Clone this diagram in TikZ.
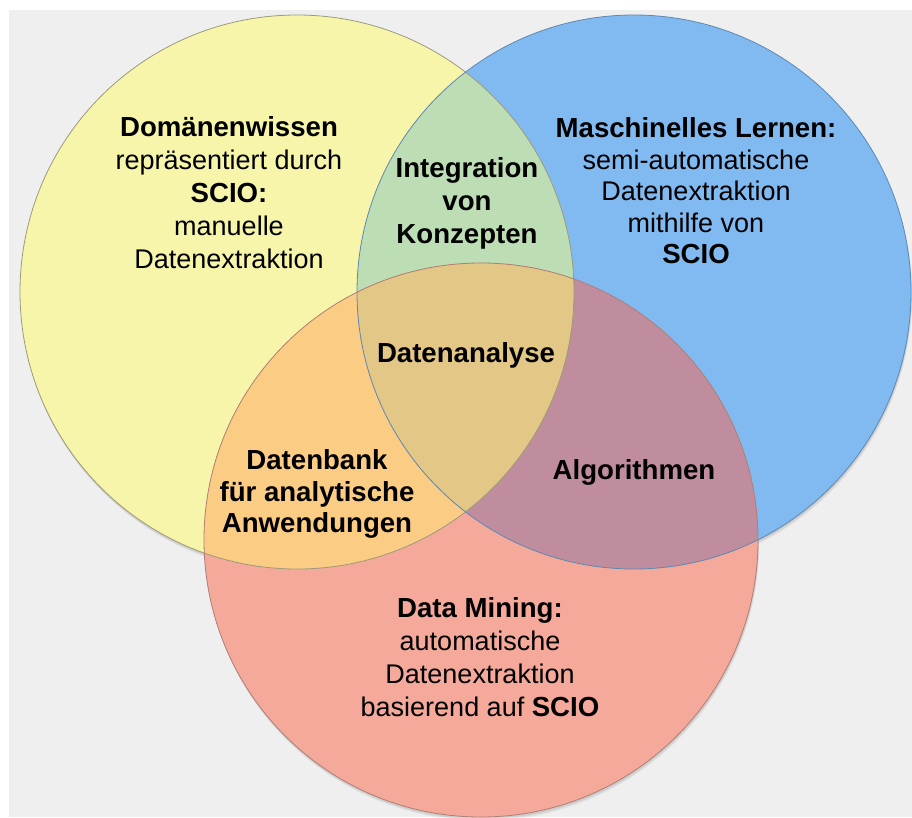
\documentclass[tikz,border=0pt]{standalone}
\usepackage{fontspec}
\setmainfont{Liberation Sans}
\definecolor{bggray}{HTML}{EFEFEF}
\definecolor{cyel}{HTML}{F6F5AA}
\definecolor{cblue}{HTML}{80BAF0}
\definecolor{cred}{HTML}{F5A99B}
\definecolor{cgreen}{HTML}{BDDDB4}
\definecolor{corange}{HTML}{FBCC84}
\definecolor{cpurple}{HTML}{C08D9F}
\definecolor{ccenter}{HTML}{E2C787}
\definecolor{eyel}{HTML}{9C9A78}
\definecolor{eblue}{HTML}{5E88B2}
\definecolor{ered}{HTML}{B07E74}
\newcommand{\bigb}[1]{{\fontsize{27.6}{33}\selectfont\bfseries #1}}
\tikzset{
  txt/.style={align=center, text=black, inner sep=0pt, font=\fontsize{27}{33}\selectfont},
  txtb/.style={txt, font=\fontsize{27.6}{33}\selectfont\bfseries},
  edge/.style={line width=0.8pt}
}
\begin{document}
\begin{tikzpicture}[x=1pt,y=-1pt]
\useasboundingbox (0,0) rectangle (912,817);
\fill[white] (0,0) rectangle (912,817);
\fill[bggray] (9,10) rectangle (912,817);
% soft shadows
\foreach \o/\a in {4/0.04,3/0.05,2/0.06}{
  \fill[black,opacity=\a] (297+\o*0.3,292+\o) circle[radius=277pt];
  \fill[black,opacity=\a] (634+\o*0.3,292+\o) circle[radius=277pt];
  \fill[black,opacity=\a] (481+\o*0.3,540+\o) circle[radius=277pt];
}
% base fills
\fill[cyel] (297,292) circle[radius=277pt];
\fill[cblue] (634,292) circle[radius=277pt];
\fill[cred] (481,540) circle[radius=277pt];
% pairwise overlaps
\begin{scope}
  \clip (297,292) circle[radius=277pt];
  \fill[cgreen] (634,292) circle[radius=277pt];
  \fill[corange] (481,540) circle[radius=277pt];
\end{scope}
\begin{scope}
  \clip (634,292) circle[radius=277pt];
  \fill[cpurple] (481,540) circle[radius=277pt];
\end{scope}
\begin{scope}
  \clip (297,292) circle[radius=277pt];
  \clip (634,292) circle[radius=277pt];
  \fill[ccenter] (481,540) circle[radius=277pt];
\end{scope}
% outlines
\draw[edge, eyel] (297,292) circle[radius=277pt];
\draw[edge, eblue] (634,292) circle[radius=277pt];
\draw[edge, ered] (481,540) circle[radius=277pt];
% texts
\node[txt] (dom) at (229,193) {\bigb{Domänenwissen}\\repräsentiert durch\\\bigb{SCIO:}\\manuelle\\Datenextraktion};
\node[txtb] (integ) at (467,203) {Integration\\von\\Konzepten};
\node[txt, font=\fontsize{27}{31.5}\selectfont] (ml) at (696,191) {\bigb{Maschinelles Lernen:}\\semi-automatische\\Datenextraktion\\mithilfe von\\\bigb{SCIO}};
\node[txtb] (dana) at (466,355) {Datenanalyse};
\node[txtb, font=\fontsize{27.6}{31.5}\selectfont\bfseries] (dbank) at (317,494) {Datenbank\\für analytische\\Anwendungen};
\node[txtb] (algo) at (634,472) {Algorithmen};
\node[txt] (dm) at (480,657) {\bigb{Data Mining:}\\automatische\\Datenextraktion\\basierend auf \bigb{SCIO}};
\end{tikzpicture}
\end{document}
